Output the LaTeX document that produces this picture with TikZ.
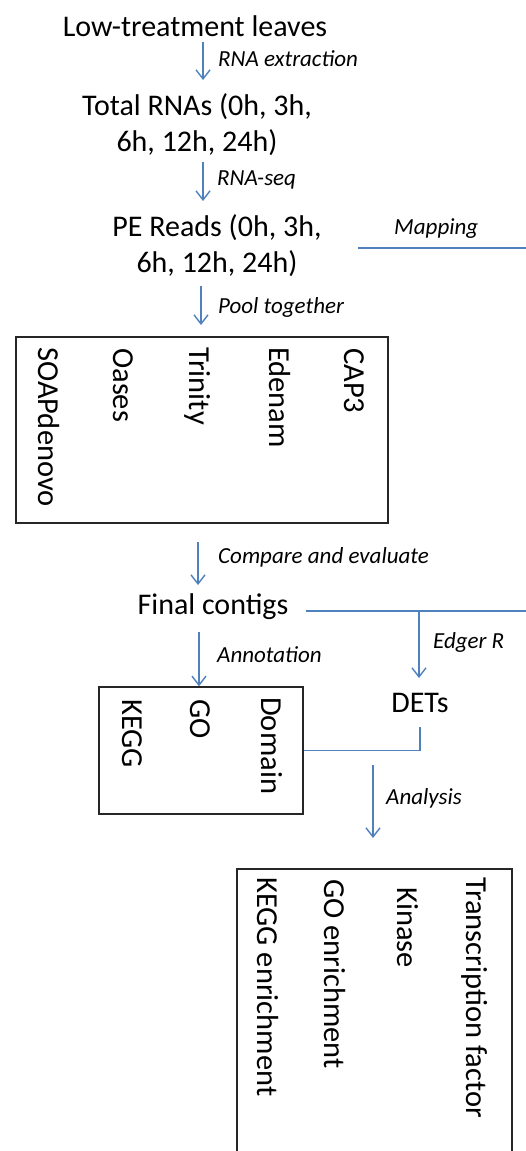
\documentclass[tikz,border=0pt]{standalone}
\usepackage{fontspec}
\setmainfont{Carlito}
\usetikzlibrary{arrows.meta}
\definecolor{flowblue}{RGB}{79,129,189}
\tikzset{
  big/.style={inner sep=0pt, font=\fontsize{30}{36}\selectfont, align=center},
  lbl/.style={inner sep=0pt, anchor=west, font=\fontsize{23}{26}\selectfont\itshape},
  vtext/.style={inner sep=0pt, anchor=west, rotate=-90, font=\fontsize{30.5}{34}\selectfont},
  box/.style={draw=black!85, line width=1.4pt, inner sep=0pt},
  conn/.style={draw=flowblue, line width=1.4pt},
  arr/.style={conn, -{Straight Barb[length=9pt,width=14pt,line width=1.4pt]}}
}
\begin{document}
\begin{tikzpicture}[x=1pt,y=-1pt]
\useasboundingbox (0,0) rectangle (526,1151);
\clip (0,0) rectangle (526,1151);
\fill[white] (0,0) rectangle (526,1151);

% main text nodes
\node[big] (leaves) at (195,26) {Low-treatment leaves};
\node[big] (total) at (197,125) {Total RNAs (0h, 3h,\\6h, 12h, 24h)};
\node[big] (reads) at (217,245.5) {PE Reads (0h, 3h,\\6h, 12h, 24h)};
\node[big] (contigs) at (213,607) {Final contigs};
\node[big] (dets) at (420,703) {DETs};

% boxes
\node[box, minimum width=372pt, minimum height=186pt] (asm) at (202,430) {};
\node[box, minimum width=204pt, minimum height=127pt] (annot) at (201,750.5) {};
\node[box, minimum width=275pt, minimum height=301pt] (anal) at (374.5,1019.5) {};

% assembler texts
\node[vtext] (soap) at (49,347) {SOAPdenovo};
\node[vtext] (oases) at (123,348) {Oases};
\node[vtext] (trinity) at (198,347) {Trinity};
\node[vtext] (edenam) at (280,347) {Edenam};
\node[vtext] (cap) at (354,348) {CAP3};

% annotation texts
\node[vtext] (kegg) at (132,699) {KEGG};
\node[vtext] (go) at (200,699) {GO};
\node[vtext] (domain) at (272,697) {Domain};

% analysis texts
\node[vtext] (tf) at (475,877) {Transcription factor};
\node[vtext] (kinase) at (408,887) {Kinase};
\node[vtext] (goen) at (335,879) {GO enrichment};
\node[vtext] (keggen) at (268,877) {KEGG enrichment};

% arrow end points
\coordinate (a1s) at (203,42);  \coordinate (a1e) at (203,80);
\coordinate (a2s) at (203,162); \coordinate (a2e) at (203,201);
\coordinate (a3s) at (201,286); \coordinate (a3e) at (201,325);
\coordinate (a4s) at (198,542); \coordinate (a4e) at (198,585);
\coordinate (a5s) at (199,632);
\coordinate (mapS) at (358,248); \coordinate (mapE) at (527,248);
\coordinate (fcS) at (306,611);  \coordinate (fcE) at (527,611);
\coordinate (edgS) at (419,611); \coordinate (edgE) at (419,678);
\coordinate (detS) at (420,727);
\coordinate (anS) at (373,765); \coordinate (anE) at (373,838);

% connectors
\draw[arr] (a1s) -- (a1e);
\draw[arr] (a2s) -- (a2e);
\draw[arr] (a3s) -- (a3e);
\draw[arr] (a4s) -- (a4e);
\draw[arr] (a5s) -- (a5s |- annot.north);
\draw[conn] (mapS) -- (mapE);
\draw[conn] (fcS) -- (fcE);
\draw[arr] (edgS) -- (edgE);
\draw[conn] (detS) |- (annot.east);
\draw[arr] (anS) -- (anE);

% labels
\node[lbl] (l1) at (218,59) {RNA extraction};
\node[lbl] (l2) at (217,180) {RNA-seq};
\node[lbl] (l3) at (218,307) {Pool together};
\node[lbl] (l4) at (394,229) {Mapping};
\node[lbl] (l5) at (218,557) {Compare and evaluate};
\node[lbl] (l6) at (217,655) {Annotation};
\node[lbl] (l7) at (433,642) {Edger R};
\node[lbl] (l8) at (386,798) {Analysis};
\end{tikzpicture}
\end{document}
